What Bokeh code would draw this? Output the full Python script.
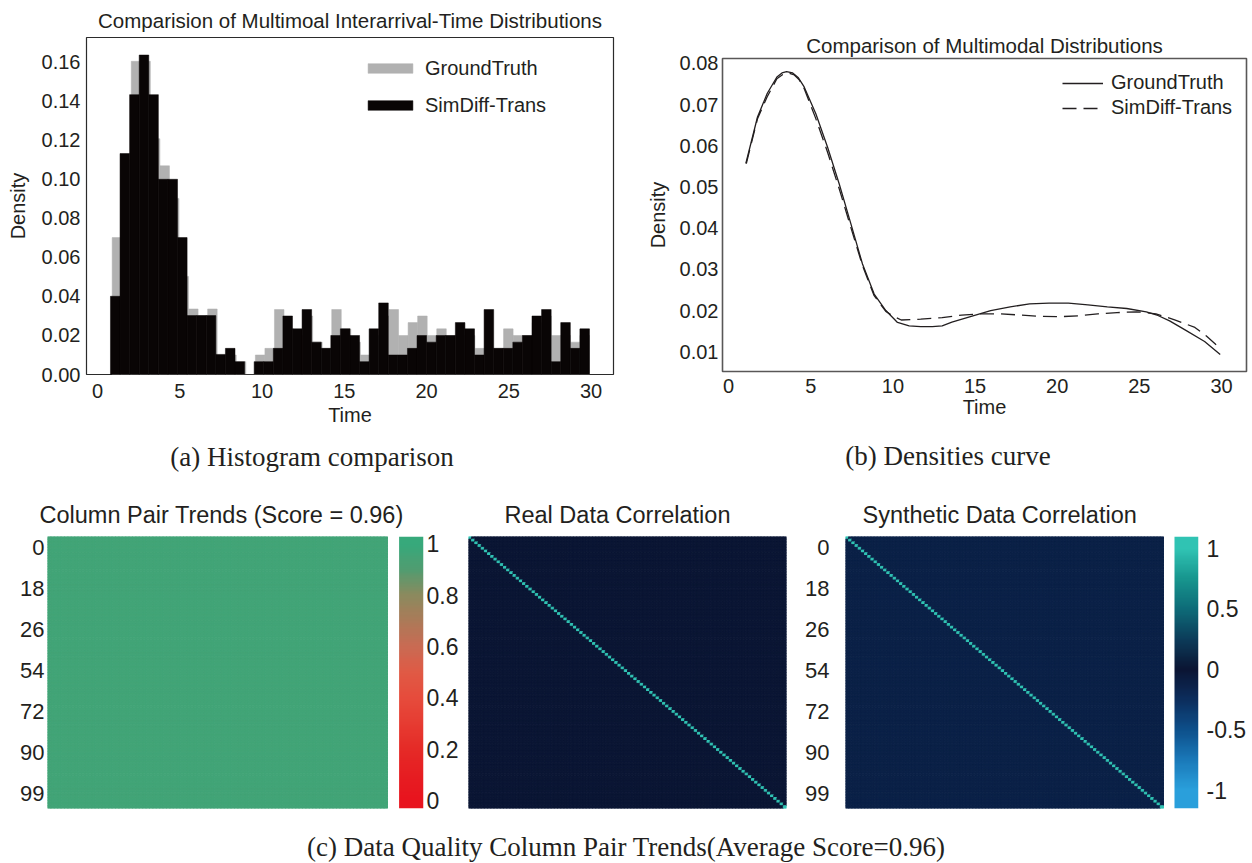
import numpy as np
from bokeh.plotting import figure
from bokeh.models import (Range1d, FixedTicker, NumeralTickFormatter, Legend, LegendItem,
                          LinearColorMapper, Div, ColumnDataSource, LinearAxis)
from bokeh.layouts import row, column
from bokeh.embed import file_html
from bokeh.resources import INLINE

# ---------------- data ----------------
hist_bins = 50
sim_range = [0.786, 29.90]
gt_range = [0.89, 29.90]
sim_density = [0.0401, 0.1133, 0.1435, 0.1638, 0.1435, 0.1001, 0.1001, 0.0702, 0.0302, 0.0302,
               0.0302, 0.0103, 0.0134, 0.0066, 0.0, 0.0066, 0.0066, 0.0134, 0.0300, 0.0234,
               0.0333, 0.0166, 0.0134, 0.0200, 0.0234, 0.0200, 0.0066, 0.0234, 0.0367, 0.0100,
               0.0100, 0.0134, 0.0200, 0.0166, 0.0200, 0.0200, 0.0266, 0.0234, 0.0100, 0.0333,
               0.0134, 0.0134, 0.0166, 0.0200, 0.0300, 0.0333, 0.0066, 0.0266, 0.0134, 0.0234]
gt_density = [0.0702, 0.1100, 0.1606, 0.1606, 0.1209, 0.1070, 0.0903, 0.0503, 0.0336, 0.0302,
              0.0336, 0.0100, 0.0100, 0.0066, 0.0, 0.0100, 0.0134, 0.0333, 0.0234, 0.0200,
              0.0300, 0.0166, 0.0134, 0.0333, 0.0234, 0.0166, 0.0100, 0.0200, 0.0300, 0.0333,
              0.0200, 0.0266, 0.0300, 0.0200, 0.0234, 0.0200, 0.0200, 0.0200, 0.0134, 0.0134,
              0.0134, 0.0234, 0.0200, 0.0200, 0.0266, 0.0300, 0.0200, 0.0200, 0.0166, 0.0200]

gt_x = [1.05, 1.76, 2.35, 2.94, 3.25, 3.53, 3.90, 4.25, 4.60, 5.31, 6.02, 6.73, 7.44, 8.15,
        8.86, 9.57, 10.28, 10.99, 11.69, 12.40, 13.00, 13.59, 14.77, 15.95, 17.14, 18.32,
        19.50, 20.68, 21.87, 23.05, 24.23, 25.42, 26.13, 26.84, 27.78, 28.97, 29.92]
gt_y = [0.0557, 0.0670, 0.0727, 0.0767, 0.0777, 0.0780, 0.0777, 0.0765, 0.0743, 0.0678,
        0.0597, 0.0508, 0.0411, 0.0313, 0.0240, 0.0200, 0.0171, 0.0163, 0.0161, 0.0161,
        0.0163, 0.0172, 0.0186, 0.0200, 0.0209, 0.0216, 0.0218, 0.0218, 0.0214, 0.0209,
        0.0205, 0.0197, 0.0188, 0.0175, 0.0153, 0.0125, 0.0093]
sd_x = [1.08, 1.76, 2.35, 2.94, 3.30, 3.65, 4.00, 4.30, 4.60, 5.31, 6.02, 6.73, 7.44, 8.15,
        8.86, 9.57, 10.04, 10.51, 11.69, 13.00, 14.18, 15.36, 16.54, 17.73, 18.91, 20.09,
        21.28, 22.46, 23.64, 24.83, 26.01, 27.19, 28.38, 29.08, 29.95]
sd_y = [0.0557, 0.0666, 0.0719, 0.0763, 0.0773, 0.0777, 0.0772, 0.0760, 0.0739, 0.0666,
        0.0585, 0.0496, 0.0402, 0.0309, 0.0236, 0.0198, 0.0186, 0.0177, 0.0179, 0.0183,
        0.0189, 0.0192, 0.0192, 0.0189, 0.0186, 0.0185, 0.0187, 0.0192, 0.0195, 0.0197,
        0.0192, 0.0177, 0.0159, 0.0138, 0.0107]

hist_xticks = [0, 5, 10, 15, 20, 25, 30]
hist_yticks = [0.0, 0.02, 0.04, 0.06, 0.08, 0.10, 0.12, 0.14, 0.16]
dens_xticks = [0, 5, 10, 15, 20, 25, 30]
dens_yticks = [0.01, 0.02, 0.03, 0.04, 0.05, 0.06, 0.07, 0.08]

n_cols = 100
heat_tick_labels = ["0", "18", "26", "54", "72", "90", "99"]
pair_score = 0.96          # column pair trend score (uniform estimate)
real_offdiag = 0.0         # real data correlation off the diagonal
synth_offdiag = -0.12      # synthetic data correlation off the diagonal (estimate)
self_corr = 1.0
cb1_ticks = [0.0, 0.2, 0.4, 0.6, 0.8, 1.0]
cb1_labels = ["0", "0.2", "0.4", "0.6", "0.8", "1"]
cb3_ticks = [-1.0, -0.5, 0.0, 0.5, 1.0]
cb3_labels = ["-1", "-0.5", "0", "0.5", "1"]

# ---------------- styles ----------------
FONT = "Liberation Sans"
TXT = "#231f20"
GRAY = "#b1b1b1"
BLACK = "#090505"


def interp_palette(stops, lo, hi, n=256):
    vals = np.linspace(lo, hi, n)
    sv = np.array([s[0] for s in stops])
    rgb = np.array([[int(c[1:3], 16), int(c[3:5], 16), int(c[5:7], 16)] for _, c in stops], float)
    out = []
    for v in vals:
        r = np.interp(v, sv, rgb[:, 0]); g = np.interp(v, sv, rgb[:, 1]); b = np.interp(v, sv, rgb[:, 2])
        out.append("#%02x%02x%02x" % (int(round(r)), int(round(g)), int(round(b))))
    return out


pair_stops = [(0.0, "#e8141e"), (0.1, "#e61e22"), (0.2, "#e52b27"), (0.3, "#e63c32"),
              (0.4, "#e64c3c"), (0.5, "#e05a45"), (0.6, "#c96b53"), (0.7, "#ac7a58"),
              (0.8, "#8c8a5e"), (0.9, "#529c70"), (1.0, "#37a97b")]
corr_stops = [(-1.0, "#2a9fdb"), (-0.75, "#1a78b8"), (-0.5, "#0d4f8a"), (-0.25, "#0c2d5c"),
              (0.0, "#0b1533"), (0.25, "#0c3c5a"), (0.5, "#0d6b78"), (0.75, "#17958e"),
              (1.0, "#30c3b3")]
pair_mapper = LinearColorMapper(palette=interp_palette(pair_stops, 0, 1), low=0, high=1)
corr_mapper = LinearColorMapper(palette=interp_palette(corr_stops, -1, 1), low=-1, high=1)


def style_axes(p, size):
    for ax in p.axis:
        ax.axis_line_color = None
        ax.major_tick_line_color = None
        ax.minor_tick_line_color = None
        ax.major_tick_out = 0
        ax.major_tick_in = 0
        ax.minor_tick_out = 0
        ax.minor_tick_in = 0
        ax.major_label_text_font = FONT
        ax.major_label_text_font_size = size
        ax.major_label_text_color = TXT
        ax.axis_label_text_font = FONT
        ax.axis_label_text_font_size = size
        ax.axis_label_text_color = TXT
        ax.axis_label_text_font_style = "normal"


def style_title(p, text, size, standoff, align="center", offset=0):
    p.title.text = text
    p.title.align = align
    p.title.text_font = FONT
    p.title.text_font_size = size
    p.title.text_font_style = "normal"
    p.title.text_color = TXT
    p.title.standoff = standoff
    p.title.offset = offset


# ---------------- (a) histogram ----------------
pa = figure(width=640, height=430, x_range=Range1d(-0.67, 31.36), y_range=Range1d(0, 0.1728),
            min_border_left=86, min_border_right=27, min_border_top=35, min_border_bottom=56,
            toolbar_location=None, tools="", output_backend="svg")
style_title(pa, "Comparision of Multimoal Interarrival-Time Distributions", "20.5px", 12)
pa.grid.visible = False
pa.outline_line_color = "#2b2b2b"
pa.outline_line_width = 1.2

gt_edges = np.linspace(gt_range[0], gt_range[1], hist_bins + 1)
sim_edges = np.linspace(sim_range[0], sim_range[1], hist_bins + 1)
r_gt = pa.quad(left=gt_edges[:-1], right=gt_edges[1:], bottom=0, top=gt_density,
               fill_color=GRAY, line_color=GRAY, line_width=0.5)
r_sim = pa.quad(left=sim_edges[:-1], right=sim_edges[1:], bottom=0, top=sim_density,
                fill_color=BLACK, line_color=BLACK, line_width=0.5)

pa.xaxis.ticker = FixedTicker(ticks=hist_xticks)
pa.yaxis.ticker = FixedTicker(ticks=hist_yticks)
pa.yaxis.formatter = NumeralTickFormatter(format="0.00")
pa.xaxis.axis_label = "Time"
pa.yaxis.axis_label = "Density"
style_axes(pa, "20px")
pa.xaxis.major_label_standoff = 9
pa.xaxis.axis_label_standoff = 3
pa.yaxis.major_label_standoff = 6
pa.yaxis.axis_label_standoff = 10

leg_a = Legend(items=[LegendItem(label="GroundTruth", renderers=[r_gt]),
                      LegendItem(label="SimDiff-Trans", renderers=[r_sim])],
               location=(276, 254), orientation="vertical",
               border_line_color=None, background_fill_alpha=0, padding=0, spacing=7,
               label_height=30, glyph_height=12, glyph_width=56, label_standoff=7,
               label_text_font=FONT, label_text_font_size="20px", label_text_color=TXT)
pa.add_layout(leg_a)

# ---------------- (b) density curves ----------------
pb = figure(width=612, height=430, x_range=Range1d(-0.37, 31.52), y_range=Range1d(0.0052, 0.0812),
            min_border_left=82, min_border_right=6, min_border_top=58, min_border_bottom=59,
            toolbar_location=None, tools="", output_backend="svg")
style_title(pb, "Comparison of Multimodal Distributions", "20.5px", 4)
pb.grid.visible = False
pb.outline_line_color = "#595757"
pb.outline_line_width = 1.6
l_gt = pb.line(gt_x, gt_y, line_color=TXT, line_width=1.3)
l_sd = pb.line(sd_x, sd_y, line_color=TXT, line_width=1.3, line_dash="14 7")
pb.xaxis.ticker = FixedTicker(ticks=dens_xticks)
pb.yaxis.ticker = FixedTicker(ticks=dens_yticks)
pb.yaxis.formatter = NumeralTickFormatter(format="0.00")
pb.xaxis.axis_label = "Time"
pb.yaxis.axis_label = "Density"
style_axes(pb, "20px")
pb.xaxis.major_label_standoff = 7
pb.xaxis.axis_label_standoff = 0
pb.yaxis.major_label_standoff = 4
pb.yaxis.axis_label_standoff = 8

leg_b = Legend(items=[LegendItem(label="GroundTruth", renderers=[l_gt]),
                      LegendItem(label="SimDiff-Trans", renderers=[l_sd])],
               location=(340, 251), orientation="vertical",
               border_line_color=None, background_fill_alpha=0, padding=0, spacing=0,
               label_height=25, glyph_height=20, glyph_width=41, label_standoff=8,
               label_text_font=FONT, label_text_font_size="20px", label_text_color=TXT)
pb.add_layout(leg_b)

# ---------------- (c) heatmaps ----------------
pair_mat = np.full((n_cols, n_cols), pair_score)
real_mat = np.full((n_cols, n_cols), real_offdiag)
np.fill_diagonal(real_mat, self_corr)
synth_mat = np.full((n_cols, n_cols), synth_offdiag)
np.fill_diagonal(synth_mat, self_corr)

tick_first, tick_step = 3.93, 15.11
heat_tick_pos = [round(tick_first + k * tick_step, 2) for k in range(len(heat_tick_labels))]


def heat_fig(mat, mapper, width, left, right, frame_w, heat_w, title, show_y, y_standoff,
             title_offset, cbar=None):
    x_hi = n_cols * frame_w / heat_w
    p = figure(width=width, height=340, x_range=Range1d(0, x_hi), y_range=Range1d(n_cols, 0),
               min_border_left=left, min_border_right=right, min_border_top=56, min_border_bottom=12,
               x_axis_location=None, y_axis_location=("left" if show_y else None),
               toolbar_location=None, tools="", output_backend="svg")
    style_title(p, title, "23.5px", 18, "left", title_offset)
    p.grid.visible = False
    p.outline_line_color = None
    n = mat.shape[0]
    cols, rows = np.meshgrid(np.arange(n), np.arange(n))
    src = ColumnDataSource(dict(x=cols.ravel() + 0.5, y=rows.ravel() + 0.5, v=mat.ravel()))
    p.rect('x', 'y', 1, 1, source=src,
           fill_color={'field': 'v', 'transform': mapper},
           line_color={'field': 'v', 'transform': mapper}, line_width=1)
    if show_y:
        p.yaxis.ticker = FixedTicker(ticks=heat_tick_pos)
        p.yaxis.major_label_overrides = {t: l for t, l in zip(heat_tick_pos, heat_tick_labels)}
        p.yaxis.major_label_standoff = y_standoff
    if cbar is not None:
        lo, hi, ticks, labels, gap_px, standoff = cbar
        p.extra_y_ranges = {"cb": Range1d(lo, hi)}
        x0 = n_cols + gap_px * n_cols / heat_w
        grad = np.linspace(lo, hi, 256).reshape(-1, 1)
        p.image(image=[grad], x=x0, y=lo, dw=x_hi - x0, dh=hi - lo, color_mapper=mapper,
                y_range_name="cb")
        ax = LinearAxis(y_range_name="cb", ticker=FixedTicker(ticks=ticks),
                        major_label_overrides={t: l for t, l in zip(ticks, labels)})
        p.add_layout(ax, "right")
    style_axes(p, "22px")
    if cbar is not None:
        p.right[0].major_label_text_font_size = "23px"
        p.right[0].major_label_standoff = cbar[5]
    return p


h1 = heat_fig(pair_mat, pair_mapper, 462, 47, 39, 376, 340,
              "Column Pair Trends (Score = 0.96)", True, 3, -8,
              cbar=(-0.031, 1.028, cb1_ticks, cb1_labels, 11.6, 3))
h2 = heat_fig(real_mat, corr_mapper, 328, 6, 4, 318, 318, "Real Data Correlation", False, 0, 36)
h3 = heat_fig(synth_mat, corr_mapper, 462, 55, 54, 353, 318,
              "Synthetic Data Correlation", True, 16, 17,
              cbar=(-1.151, 1.096, cb3_ticks, cb3_labels, 11, 8))

# ---------------- captions ----------------
cap = "font-family:'Liberation Serif';font-size:27px;color:#231f20;white-space:nowrap;line-height:30px;position:relative;text-align:center;"
div_a = Div(text=f'<div style="{cap}width:624px;top:12px;">(a) Histogram comparison</div>',
            width=640, height=50, margin=(0, 0, 0, 0))
div_b = Div(text=f'<div style="{cap}width:616px;top:11px;">(b) Densities curve</div>',
            width=612, height=50, margin=(0, 0, 0, 0))
div_c = Div(text=f'<div style="{cap}width:1241px;padding-left:11px;top:12px;">(c) Data Quality Column Pair Trends(Average Score=0.96)</div>',
            width=1252, height=43, margin=(0, 0, 0, 0))

layout = column(row(column(pa), column(pb)), row(div_a, div_b), row(h1, h2, h3), div_c)
open("out.html", "w").write(file_html(layout, INLINE))
